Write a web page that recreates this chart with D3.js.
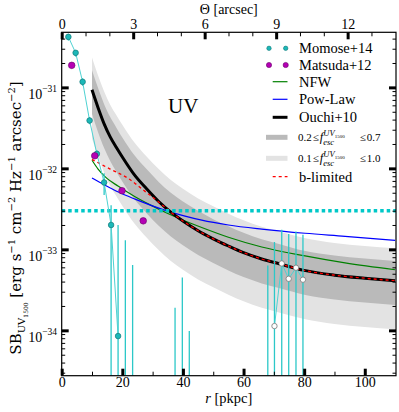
<!DOCTYPE html>
<html>
<head>
<meta charset="utf-8">
<script src="https://cdn.jsdelivr.net/npm/d3@7"></script>
<style>
body{margin:0;background:#fff}
text{font-family:"Liberation Serif","Times New Roman",serif;fill:#000;white-space:pre}
</style>
</head>
<body>
<script>
// Momose+14 profile (cyan), pkpc and erg/s/cm2/Hz/arcsec2
var momoseR  = [2.2, 4.6, 6.9, 9.2, 11.6, 14.0, 16.3, 18.6];
var momoseSB = [4.2e-31, 2.67e-31, 1.17e-31, 3.9e-32, 1.51e-32, 6.7e-33, 2.0e-33, 8.5e-35];
var momoseLo = [3.8e-31, 2.4e-31, 1.05e-31, 3.5e-32, 1.35e-32, 4.7e-33, 0, 0];
var momoseHi = [4.6e-31, 2.9e-31, 1.3e-31, 4.3e-32, 1.67e-32, 8.7e-33, 3.5e-33, 2.0e-33];
// bins whose value falls below the axis, only the upper error is visible
var barR  = [21.0, 23.4, 37.4, 39.8, 42.1, 68.0];
var barHi = [1.3e-33, 6.4e-34, 1.9e-34, 4.5e-34, 9.8e-35, 6.3e-34];
// open points at large radius
var openR  = [70.2, 72.6, 74.9, 77.3, 79.6];
var openSB = [1.13e-34, 6.7e-34, 4.33e-34, 5.93e-34, 4.22e-34];
var openHi = [1.23e-33, 1.74e-33, 1.55e-33, 1.66e-33, 1.51e-33];
// Matsuda+12 (magenta)
var matsudaR  = [3.3, 10.9, 19.9, 26.9];
var matsudaSB = [1.87e-31, 1.43e-32, 5.3e-33, 2.25e-33];
// detection limit (cyan dotted)
var limitSB = 3e-33;

// Ouchi+10 model and f_esc bands
var modelR = [10, 12, 14, 16, 18, 20, 24, 28, 32, 36, 40, 45, 50, 55, 60, 66, 72, 80, 90, 100, 110];
var ouchiSB = [9.33e-32, 5.62e-32, 3.55e-32, 2.45e-32, 1.82e-32, 1.38e-32, 8.3e-33, 5.6e-33, 3.9e-33, 2.88e-33,
               2.24e-33, 1.70e-33, 1.35e-33, 1.10e-33, 9.1e-34, 7.6e-34, 6.6e-34, 5.5e-34, 4.8e-34, 4.4e-34, 4.1e-34];
var fesc07 = [1.63e-31, 9.8e-32, 6.2e-32, 4.3e-32, 3.2e-32, 2.4e-32, 1.45e-32, 9.8e-33, 6.8e-33, 5.0e-33,
              3.9e-33, 3.0e-33, 2.36e-33, 1.93e-33, 1.6e-33, 1.33e-33, 1.16e-33, 9.6e-34, 8.4e-34, 7.7e-34, 7.2e-34];
var fesc02 = [4.7e-32, 2.8e-32, 1.78e-32, 1.23e-32, 9.1e-33, 6.9e-33, 4.15e-33, 2.8e-33, 1.95e-33, 1.44e-33,
              1.12e-33, 8.5e-34, 6.8e-34, 5.5e-34, 4.55e-34, 3.8e-34, 3.3e-34, 2.75e-34, 2.4e-34, 2.2e-34, 2.05e-34];
var fesc10 = [2.33e-31, 1.4e-31, 8.9e-32, 6.1e-32, 4.55e-32, 3.45e-32, 2.08e-32, 1.4e-32, 9.8e-33, 7.2e-33,
              5.6e-33, 4.25e-33, 3.4e-33, 2.75e-33, 2.28e-33, 1.9e-33, 1.65e-33, 1.38e-33, 1.2e-33, 1.1e-33, 1.03e-33];
var fesc01 = [2.33e-32, 1.4e-32, 8.9e-33, 6.1e-33, 4.55e-33, 3.45e-33, 2.08e-33, 1.4e-33, 9.8e-34, 7.2e-34,
              5.6e-34, 4.25e-34, 3.4e-34, 2.75e-34, 2.28e-34, 1.9e-34, 1.65e-34, 1.38e-34, 1.2e-34, 1.1e-34, 1.03e-34];
// b-limited (red dashed)
var blimR  = [10, 16, 22, 27.5, 32, 36, 40, 45, 50, 55, 60, 66, 72, 80, 90, 100, 110];
var blimSB = [1.29e-32, 9.8e-33, 7.5e-33, 5.2e-33, 3.85e-33, 2.88e-33, 2.24e-33, 1.70e-33, 1.35e-33, 1.10e-33,
              9.1e-34, 7.6e-34, 6.6e-34, 5.5e-34, 4.8e-34, 4.4e-34, 4.1e-34];
// NFW (green)
var nfwR  = [10, 12, 14.3, 18.7, 24.2, 29.7, 35.2, 40.7, 46.2, 55, 66, 80.3, 93.5, 110];
var nfwSB = [1.26e-32, 9.8e-33, 7.9e-33, 6.0e-33, 4.47e-33, 3.47e-33, 2.75e-33, 2.24e-33, 1.86e-33, 1.41e-33,
             1.07e-33, 8.3e-34, 6.8e-34, 5.6e-34];
// power law (blue)
var powR  = [10, 14.3, 18.7, 24.2, 29.7, 35.2, 40.7, 46.2, 55, 66, 80.3, 93.5, 110];
var powSB = [7.6e-33, 6.2e-33, 5.1e-33, 4.17e-33, 3.47e-33, 2.95e-33, 2.57e-33, 2.29e-33, 2.0e-33, 1.78e-33,
             1.58e-33, 1.45e-33, 1.29e-33];

var xTicks = [0, 20, 40, 60, 80, 100];
var xMinor = [10, 30, 50, 70, 90];
var thetaTicks = [0, 3, 6, 9, 12];
var yTicks = [1e-31, 1e-32, 1e-33, 1e-34];
var yExp = ["-31", "-32", "-33", "-34"];

var W = 399, H = 412;
var m = {l: 61.7, r: 396, t: 32.3, b: 375.7};

var svg = d3.select("body").append("svg").attr("width", W).attr("height", H);

var x = d3.scaleLinear().domain([0, 110.3]).range([m.l, m.r]);
var xTop = d3.scaleLinear().domain([0, 14.03]).range([m.l, m.r]);
var y = d3.scaleLog().domain([Math.pow(10, -34.56), Math.pow(10, -30.32)]).range([m.b, m.t]);
var yMin = y.domain()[0];

svg.append("clipPath").attr("id", "clip").append("rect")
    .attr("x", m.l).attr("y", m.t).attr("width", m.r - m.l).attr("height", m.b - m.t);
var plot = svg.append("g").attr("clip-path", "url(#clip)");

var band = function(lo, hi){
    return d3.area().curve(d3.curveMonotoneX)
        .x(function(d, i){ return x(modelR[i]); })
        .y0(function(d, i){ return y(lo[i]); })
        .y1(function(d, i){ return y(hi[i]); })(modelR);
};
plot.append("path").attr("d", band(fesc01, fesc10)).attr("fill", "#e3e3e3");
plot.append("path").attr("d", band(fesc02, fesc07)).attr("fill", "#bababa");

var curve = function(rs, vs){
    return d3.line().curve(d3.curveMonotoneX)
        .x(function(d, i){ return x(rs[i]); })
        .y(function(d){ return y(d); })(vs);
};
plot.append("path").attr("d", curve(nfwR, nfwSB)).attr("fill", "none").attr("stroke", "#008000").attr("stroke-width", 1.2);
plot.append("path").attr("d", curve(powR, powSB)).attr("fill", "none").attr("stroke", "#0000ff").attr("stroke-width", 1.2);
plot.append("path").attr("d", curve(modelR, ouchiSB)).attr("fill", "none").attr("stroke", "#000").attr("stroke-width", 3);
plot.append("path").attr("d", curve(blimR, blimSB)).attr("fill", "none").attr("stroke", "#ff0000")
    .attr("stroke-width", 1.3).attr("stroke-dasharray", "3,3");

// detection limit
plot.append("line").attr("x1", m.l).attr("x2", m.r).attr("y1", y(limitSB)).attr("y2", y(limitSB))
    .attr("stroke", "#00c8c8").attr("stroke-width", 3.5).attr("stroke-dasharray", "3.5,3");

// Momose error bars
var cyanBar = "#2cc8c8";
var ebars = plot.append("g").attr("stroke", cyanBar).attr("stroke-width", 1.3);
momoseR.forEach(function(r, i){
    ebars.append("line").attr("x1", x(r)).attr("x2", x(r))
        .attr("y1", y(momoseHi[i])).attr("y2", y(Math.max(momoseLo[i], yMin)));
});
barR.forEach(function(r, i){
    ebars.append("line").attr("x1", x(r)).attr("x2", x(r))
        .attr("y1", y(barHi[i])).attr("y2", m.b);
});
openR.forEach(function(r, i){
    ebars.append("line").attr("x1", x(r)).attr("x2", x(r))
        .attr("y1", y(openHi[i])).attr("y2", m.b);
});

var straight = function(rs, vs){
    return d3.line().x(function(d, i){ return x(rs[i]); }).y(function(d){ return y(d); })(vs);
};
plot.append("path").attr("d", straight(momoseR, momoseSB)).attr("fill", "none").attr("stroke", "#4fd2d2").attr("stroke-width", 1);
plot.append("path").attr("d", straight(openR, openSB)).attr("fill", "none").attr("stroke", "#4fd2d2").attr("stroke-width", 1);

plot.selectAll("circle.mom").data(momoseSB).enter().append("circle").attr("class", "mom")
    .attr("cx", function(d, i){ return x(momoseR[i]); }).attr("cy", function(d){ return y(d); })
    .attr("r", 2.8).attr("fill", "#1cb8b8").attr("stroke", "#137a7a").attr("stroke-width", 0.7);
plot.selectAll("circle.open").data(openSB).enter().append("circle").attr("class", "open")
    .attr("cx", function(d, i){ return x(openR[i]); }).attr("cy", function(d){ return y(d); })
    .attr("r", 2.7).attr("fill", "#fff").attr("stroke", "#777").attr("stroke-width", 0.8);
plot.selectAll("circle.mat").data(matsudaSB).enter().append("circle").attr("class", "mat")
    .attr("cx", function(d, i){ return x(matsudaR[i]); }).attr("cy", function(d){ return y(d); })
    .attr("r", 3.3).attr("fill", "#b400b4").attr("stroke", "#6a006a").attr("stroke-width", 0.6);

svg.append("text").attr("x", 168).attr("y", 113).attr("font-size", 21).text("UV");

// axes, ticks pointing in
var styleTicks = function(g, w){
    g.select(".domain").remove();
    g.selectAll(".tick line").attr("stroke", "#000").attr("stroke-width", w);
    g.selectAll(".tick text").attr("font-size", 14).attr("font-family", null);
};
var gb = svg.append("g").attr("transform", "translate(0," + m.b + ")")
    .call(d3.axisBottom(x).tickValues(xTicks).tickSize(-7).tickPadding(1.5).tickFormat(d3.format("d")));
styleTicks(gb, 3);
var gbm = svg.append("g").attr("transform", "translate(0," + m.b + ")")
    .call(d3.axisBottom(x).tickValues(xMinor).tickSize(-4).tickFormat(""));
styleTicks(gbm, 1);

var gt = svg.append("g").attr("transform", "translate(0," + m.t + ")")
    .call(d3.axisTop(xTop).tickValues(thetaTicks).tickSize(-7).tickPadding(3.5).tickFormat(d3.format("d")));
styleTicks(gt, 3);
var gtm = svg.append("g").attr("transform", "translate(0," + m.t + ")")
    .call(d3.axisTop(xTop).tickValues(d3.range(1, 14).filter(function(v){ return v % 3; })).tickSize(-4).tickFormat(""));
styleTicks(gtm, 1);

var yMinorTicks = y.ticks().filter(function(v){
    return Math.abs(Math.log10(v) - Math.round(Math.log10(v))) > 1e-6;
});
[[d3.axisLeft, m.l], [d3.axisRight, m.r]].forEach(function(a){
    var g1 = svg.append("g").attr("transform", "translate(" + a[1] + ",0)")
        .call(a[0](y).tickValues(yTicks).tickSize(-7).tickFormat(""));
    styleTicks(g1, 3);
    var g2 = svg.append("g").attr("transform", "translate(" + a[1] + ",0)")
        .call(a[0](y).tickValues(yMinorTicks).tickSize(-3.5).tickFormat(""));
    styleTicks(g2, 1);
});

yTicks.forEach(function(v, i){
    var t = svg.append("text").attr("x", 57).attr("y", y(v) + 12).attr("text-anchor", "end").attr("font-size", 14);
    t.append("tspan").text("10");
    t.append("tspan").attr("font-size", 9.5).attr("dy", -7).text(yExp[i].replace("-", "\u2212"));
});

svg.append("rect").attr("x", m.l).attr("y", m.t).attr("width", m.r - m.l).attr("height", m.b - m.t)
    .attr("fill", "none").attr("stroke", "#000").attr("stroke-width", 1.2);

// rich text helper: pieces laid side by side, "mark"/"fromMark" to stack sub and sup
var rich = function(parent, parts, family){
    var g = parent.append("g"), cx = 0, mark = 0, maxX = 0;
    parts.forEach(function(p){
        if (p.fromMark) cx = mark;
        if (p.mark) mark = cx;
        var t = g.append("text").attr("x", cx + (p.dx || 0)).attr("y", p.dy || 0)
            .attr("font-size", p.fs).text(p.t);
        if (family) t.style("font-family", family);
        if (p.it) t.attr("font-style", "italic");
        cx += (p.dx || 0) + t.node().getComputedTextLength();
        maxX = Math.max(maxX, cx);
        if (p.fromMark) cx = maxX;
    });
    return {g: g, width: maxX};
};

var lx = rich(svg, [{t: "r", fs: 14.5, it: true}, {t: " [pkpc]", fs: 14.5}]);
lx.g.attr("transform", "translate(" + (228.8 - lx.width / 2) + ",402.5)");
var lt = rich(svg, [{t: "\u0398", fs: 14}, {t: " [arcsec]", fs: 14}]);
lt.g.attr("transform", "translate(" + (228.8 - lt.width / 2) + ",13.5)");

var ly = rich(svg, [
    {t: "SB", fs: 15}, {t: "UV", fs: 10, dy: 4}, {t: "1500", fs: 6, dy: 6.5},
    {t: " [erg s", fs: 15}, {t: "\u22121", fs: 10, dy: -6.5},
    {t: " cm", fs: 15}, {t: "\u22122", fs: 10, dy: -6.5},
    {t: " Hz", fs: 15}, {t: "\u22121", fs: 10, dy: -6.5},
    {t: " arcsec", fs: 15}, {t: "\u22122", fs: 10, dy: -6.5}, {t: "]", fs: 15}
], "'DejaVu Serif', serif");
ly.g.attr("transform", "translate(21,218) rotate(-90) translate(" + (-ly.width / 2) + ",0)");

// legend
var legendLabels = ["Momose+14", "Matsuda+12", "NFW", "Pow-Law", "Ouchi+10", null, null, "b-limited"];
var fescRanges = [null, null, null, null, null, ["0.2", "0.7"], ["0.1", "1.0"], null];
var legendRows = [48.3, 65, 81.7, 99.3, 117.3, 137.3, 158.3, 176.7];
var lg = svg.append("g");
var sample = function(i, color, w, dash){
    lg.append("line").attr("x1", i > 4 && i < 7 ? 266 : 272.7).attr("x2", 287.5)
        .attr("y1", legendRows[i]).attr("y2", legendRows[i])
        .attr("stroke", color).attr("stroke-width", w).attr("stroke-dasharray", dash || null);
};
[269, 285.7].forEach(function(cx){
    lg.append("circle").attr("cx", cx).attr("cy", legendRows[0]).attr("r", 2.2)
        .attr("fill", "#1cb8b8").attr("stroke", "#137a7a").attr("stroke-width", 0.6);
    lg.append("circle").attr("cx", cx).attr("cy", legendRows[1]).attr("r", 2.6)
        .attr("fill", "#b400b4").attr("stroke", "#6a006a").attr("stroke-width", 0.6);
});
sample(2, "#008000", 1.2);
sample(3, "#0000ff", 1.2);
sample(4, "#000", 3);
sample(5, "#bababa", 5);
sample(6, "#e3e3e3", 5);
sample(7, "#ff0000", 1.2, "3,3");
legendLabels.forEach(function(lab, i){
    if (lab) {
        lg.append("text").attr("x", 299).attr("y", legendRows[i] + 4.8).attr("font-size", 14.5).text(lab);
    } else {
        var rt = rich(lg, [
            {t: fescRanges[i][0], fs: 11}, {t: "\u2264", fs: 11, dx: 1},
            {t: "f", fs: 12.5, it: true, dx: 1},
            {t: "UV", fs: 8.5, dy: -5, it: true, mark: true}, {t: "1500", fs: 5, dy: -3},
            {t: "esc", fs: 8.5, dy: 3.5, it: true, fromMark: true},
            {t: "\u2264", fs: 11, dx: 15}, {t: fescRanges[i][1], fs: 11, dx: 1}
        ]);
        rt.g.attr("transform", "translate(298," + (legendRows[i] + 3.8) + ")");
    }
});
</script>
</body>
</html>
